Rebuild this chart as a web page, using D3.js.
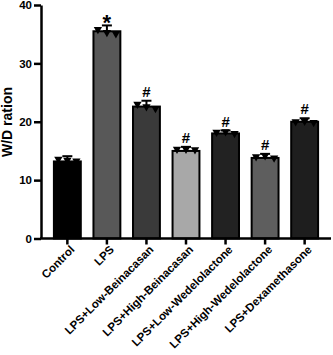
<!DOCTYPE html>
<html><head><meta charset="utf-8">
<script src="https://cdn.jsdelivr.net/npm/d3@7"></script>
<style>body{margin:0;background:#fff}svg{display:block}</style>
</head><body>
<script>
const categories = ["Control","LPS","LPS+Low-Beinacasan","LPS+High-Beinacasan","LPS+Low-Wedelolactone","LPS+High-Wedelolactone","LPS+Dexamethasone"];
const means = [13.2, 35.5, 22.6, 15.0, 18.0, 13.8, 20.0];
const errs = [0.9, 1.0, 1.0, 0.7, 0.5, 0.7, 0.6];
const points = [[13.6,13.4,13.3],[35.8,35.3,35.1],[23.0,22.6,22.3],[15.3,15.3,15.2],[18.2,18.3,18.0],[14.0,14.2,13.8],[20.0,20.1,19.9]];
const marks = ["","*","#","#","#","#","#"];
const colors = ["#000000","#585858","#3a3a3a","#a8a8a8","#222222","#5e5e5e","#1e1e1e"];
const yTicks = [0,10,20,30,40];

const W=333,H=355;
const FONT="Liberation Sans, Arial, sans-serif";
const svg=d3.select("body").append("svg").attr("width",W).attr("height",H);
const x=d3.scaleBand().domain(categories).range([46,326]).paddingInner(0.32).paddingOuter(0.2);
const y=d3.scaleLinear().domain([0,40]).range([238.5,5]);

svg.selectAll("rect.bar").data(categories).join("rect")
 .attr("x",d=>x(d)).attr("width",x.bandwidth())
 .attr("y",(d,i)=>y(means[i])).attr("height",(d,i)=>y(0)-y(means[i]))
 .attr("fill",(d,i)=>colors[i]).attr("stroke","#000").attr("stroke-width",2);

categories.forEach((c,i)=>{
  const cx=x(c)+x.bandwidth()/2;
  svg.append("line").attr("x1",cx).attr("x2",cx).attr("y1",y(means[i])).attr("y2",y(means[i]+errs[i])).attr("stroke","#000").attr("stroke-width",2);
  svg.append("line").attr("x1",cx-5).attr("x2",cx+5).attr("y1",y(means[i]+errs[i])).attr("y2",y(means[i]+errs[i])).attr("stroke","#000").attr("stroke-width",2);
  const tri=d3.symbol().type(d3.symbolTriangle).size(30);
  points[i].forEach((v,j)=>{
    const px=cx+(j-1)*9;
    svg.append("path").attr("d",tri).attr("transform",`translate(${px},${y(v)}) rotate(180)`).attr("fill","#000");
  });
  if(marks[i]) svg.append("text").attr("x",cx).attr("y",y(means[i]+errs[i])-(marks[i]==="*"?-5:4))
    .attr("text-anchor","middle").attr("font-family",FONT).attr("font-weight","bold")
    .attr("font-size",marks[i]==="*"?22:15).text(marks[i]);
});

const yAxis=svg.append("g").attr("transform","translate(41,0)")
 .call(d3.axisLeft(y).tickValues(yTicks).tickSize(7).tickPadding(2).tickSizeOuter(0));
yAxis.select(".domain").attr("stroke-width",2.5);
yAxis.selectAll(".tick line").attr("stroke-width",2.5);
yAxis.selectAll("text").attr("font-family",FONT).attr("font-weight","bold").attr("font-size",11.5);

const xAxis=svg.append("g").attr("transform","translate(0,238.5)")
 .call(d3.axisBottom(x).tickSize(6).tickSizeOuter(0));
xAxis.select(".domain").attr("d","M40,0H331").attr("stroke-width",2.5);
xAxis.selectAll(".tick line").attr("stroke-width",2.5);
xAxis.selectAll("text").attr("font-family",FONT).attr("font-weight","bold").attr("font-size",11.5)
 .attr("text-anchor","end").attr("transform","translate(5,9) rotate(-45)").attr("dy","0.35em").attr("y",0).attr("x",0);

svg.append("text").attr("transform","translate(7,122) rotate(-90)").attr("text-anchor","middle").attr("dy","0.35em")
 .attr("font-family",FONT).attr("font-weight","bold").attr("font-size",14).text("W/D ration");
</script>
</body></html>
